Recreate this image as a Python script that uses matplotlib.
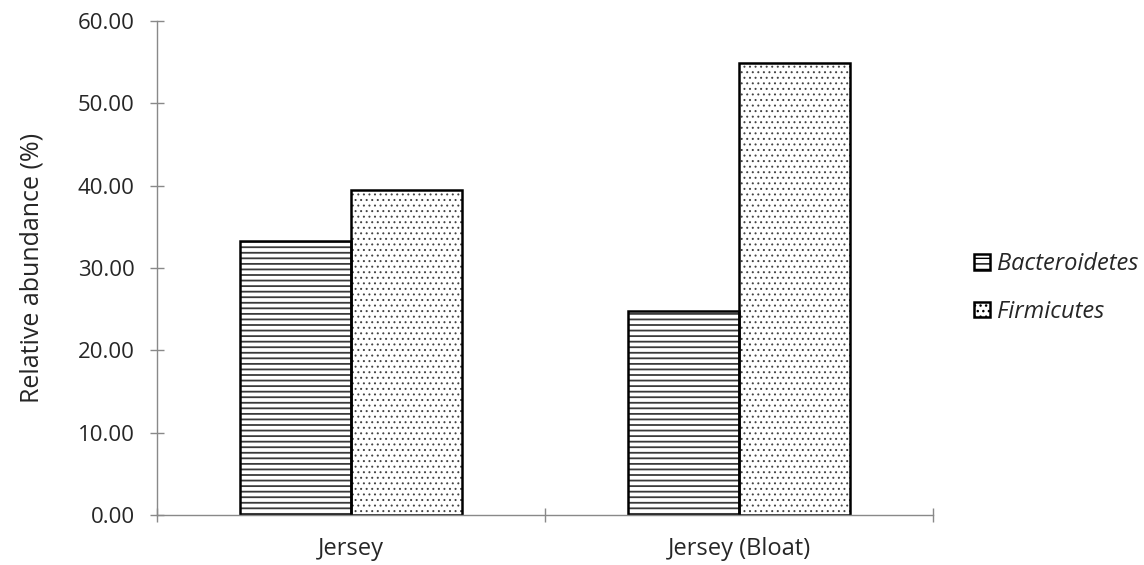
import matplotlib
matplotlib.use("Agg")
import matplotlib.pyplot as plt
from matplotlib.patches import Patch
import numpy as np

categories = ["Jersey", "Jersey (Bloat)"]
series_names = ["Bacteroidetes", "Firmicutes"]
bacteroidetes = [33.3, 24.8]
firmicutes = [39.5, 54.9]
yticks = [0, 10, 20, 30, 40, 50, 60]

plt.rcParams['font.family'] = ['Open Sans', 'DejaVu Sans']

fig = plt.figure(figsize=(11.44, 5.65), dpi=100)
ax = fig.add_axes([157/1144, 1 - 515/565, (933 - 157)/1144, (515 - 21)/565])

x = np.arange(len(categories))
w = 0.287

# hatch layers
plt.rcParams['hatch.linewidth'] = 1.3
ax.bar(x - w/2, bacteroidetes, width=w, facecolor='white', edgecolor='#3a3a3a',
       hatch='---', linewidth=0)
plt.rcParams['hatch.linewidth'] = 0.7
ax.bar(x + w/2, firmicutes, width=w, facecolor='white', edgecolor='#444444',
       hatch='...', linewidth=0)
# outlines
ax.bar(x - w/2, bacteroidetes, width=w, facecolor='none', edgecolor='black', linewidth=1.8)
ax.bar(x + w/2, firmicutes, width=w, facecolor='none', edgecolor='black', linewidth=1.8)

ax.set_xlim(-0.5, len(categories) - 0.5)
ax.set_ylim(0, 60)
ax.set_yticks(yticks)
ax.set_yticklabels([f"{v:.2f}" for v in yticks])
ax.set_xticks(x)
ax.set_xticklabels(categories, fontsize=17)
ax.set_xticks([-0.5, 0.5, 1.5], minor=True)
ax.tick_params(axis='x', which='major', length=0, pad=16)
ax.tick_params(axis='x', which='minor', length=10, direction='inout', color='#898989', width=1)
ax.tick_params(axis='y', length=10, direction='inout', color='#898989', width=1, pad=11,
               labelsize=16)
ax.tick_params(labelcolor='#262626')

for s in ['top', 'right']:
    ax.spines[s].set_visible(False)
for s in ['left', 'bottom']:
    ax.spines[s].set_color('#898989')
    ax.spines[s].set_linewidth(1)

ax.set_ylabel("Relative abundance (%)", fontsize=18, color='#262626', labelpad=24)

plt.rcParams['hatch.linewidth'] = 1.3
h1 = Patch(facecolor='white', edgecolor='black', hatch='---', linewidth=1.8)
plt.rcParams['hatch.linewidth'] = 1.0
h2 = Patch(facecolor='white', edgecolor='black', hatch='...', linewidth=1.8)
leg = fig.legend(handles=[h1, h2], labels=series_names, loc='center left',
                 bbox_to_anchor=(953/1144, 1 - 288/565), frameon=False,
                 prop={'style': 'italic', 'size': 17}, handlelength=0.65,
                 handleheight=0.65, handletextpad=0.3, labelspacing=1.0)
for t in leg.get_texts():
    t.set_color('#262626')

fig.savefig("out.png", dpi=100)
